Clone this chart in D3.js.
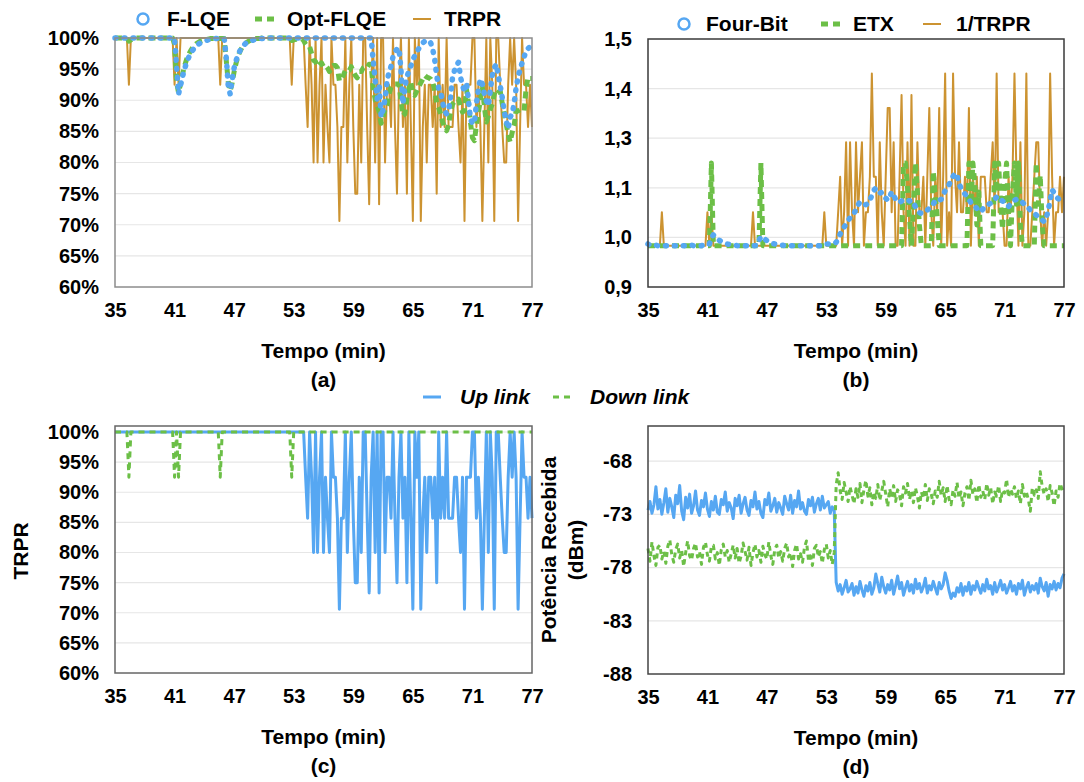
<!DOCTYPE html>
<html>
<head>
<meta charset="utf-8">
<script src="https://cdn.jsdelivr.net/npm/d3@7"></script>
<style>
  html, body { margin: 0; padding: 0; background: #fff; }
  svg text { font-family: "Liberation Sans", Arial, Helvetica, sans-serif; font-weight: bold; fill: #000; }
</style>
</head>
<body>
<div id="chart"></div>
<script>
// Sampling instants: one sample every 0.2 min from 35 to 77 min (211 samples)
const minutes = d3.range(211).map(i => 35 + i * 0.2);

const xTickValues = [35, 41, 47, 53, 59, 65, 71, 77];
const pctTicks = [60, 65, 70, 75, 80, 85, 90, 95, 100];
const etxTickValues = [0.9, 1.02, 1.14, 1.26, 1.38, 1.5];
const etxTickLabels = ["0,9", "1,0", "1,1", "1,3", "1,4", "1,5"];
const dbmTicks = [-88, -83, -78, -73, -68];

// Up-link packet reception ratio (%)
const trprUp = [
  100,100,100,100,100,100,100,100,100,100,
  100,100,100,100,100,100,100,100,100,100,
  100,100,100,100,100,100,100,100,100,100,
  100,100,100,100,100,100,100,100,100,100,
  100,100,100,100,100,100,100,100,100,100,
  100,100,100,100,100,100,100,100,100,100,
  100,100,100,100,100,100,100,100,100,100,
  100,100,100,100,100,100,100,100,100,100,
  100,100,100,100,100,100,100,100,100,100,
  100,100,100,100,100,100,92.5,85.7,100,92.5,
  80,100,80,92.5,100,80,92.5,85.7,80,100,
  92.5,92.5,85.7,70.6,85.7,85.7,100,80,92.5,100,
  85.7,75,75,92.5,80,100,100,85.7,73.3,92.5,
  100,80,100,73.3,100,100,80,92.5,92.5,85.7,
  100,85.7,75,92.5,100,85.7,92.5,75,100,85.7,
  70.6,100,92.5,100,70.6,85.7,92.5,80,92.5,92.5,
  85.7,92.5,75,100,85.7,92.5,85.7,100,85.7,85.7,
  85.7,92.5,92.5,85.7,80,92.5,70.6,92.5,92.5,92.5,
  100,100,85.7,92.5,85.7,70.6,85.7,100,80,100,
  92.5,70.6,100,100,92.5,85.7,80,80,92.5,100,
  92.5,100,92.5,70.6,85.7,100,92.5,92.5,85.7,92.5,
  85.7
];

// Down-link packet reception ratio (%)
const trprDown = [
  100,100,100,100,100,100,100,92.5,100,100,
  100,100,100,100,100,100,100,100,100,100,
  100,100,100,100,100,100,100,100,100,100,
  92.5,100,92.5,100,100,100,100,100,100,100,
  100,100,100,100,100,100,100,100,100,100,
  100,100,100,92.5,100,100,100,100,100,100,
  100,100,100,100,100,100,100,100,100,100,
  100,100,100,100,100,100,100,100,100,100,
  100,100,100,100,100,100,100,100,100,92.5,
  100,100,100,100,100,100,100,100,100,100,
  100,100,100,100,100,100,100,100,100,100,
  100,100,100,100,100,100,100,100,100,100,
  100,100,100,100,100,100,100,100,100,100,
  100,100,100,100,100,100,100,100,100,100,
  100,100,100,100,100,100,100,100,100,100,
  100,100,100,100,100,100,100,100,100,100,
  100,100,100,100,100,100,100,100,100,100,
  100,100,100,100,100,100,100,100,100,100,
  100,100,100,100,100,100,100,100,100,100,
  100,100,100,100,100,100,100,100,100,100,
  100,100,100,100,100,100,100,100,100,100,
  100
];

// F-LQE estimate (%)
const fLqe = [
  100,100,100,100,100,100,100,100,100,100,
  100,100,100,100,100,100,100,100,100,100,
  100,100,100,100,100,100,100,100,100,100,
  100,95.5,91.0,92.4,93.8,95.0,96.0,96.8,97.5,98.0,
  98.4,98.8,99.0,99.2,99.4,99.5,99.6,99.7,99.8,99.8,
  99.9,99.9,99.9,99.9,99.9,99.9,97.0,92.4,91.0,93.3,
  95.2,96.4,97.3,98.0,98.5,98.9,99.2,99.4,99.5,99.6,
  99.7,99.8,99.8,99.9,99.9,99.9,100,100,100,100,
  100,100,100,100,100,100,100,100,100,100,
  100,100,100,100,100,100,100,100,100,100,
  100,100,100,100,100,100,100,100,100,100,
  100,100,100,100,100,100,100,100,100,100,
  100,100,100,100,100,100,100,100,100,100,
  96.4,93.4,90.2,92.6,87.3,88.5,90.2,93.0,94.6,95.4,
  97.0,97.8,98.2,98.4,95.0,89.4,92.2,93.7,94.8,95.5,
  96.5,97.2,97.8,98.3,98.8,99.2,99.5,99.6,99.6,99.2,
  98.2,96.5,94.0,91.9,91.3,89.6,88.3,87.8,88.4,90.5,
  93.7,94.8,95.6,96.1,93.7,92.4,91.3,92.9,90.0,87.0,
  86.2,86.4,89.4,91.8,93.4,92.6,91.0,89.9,89.1,91.6,
  94.0,95.2,95.8,94.0,92.3,90.5,88.2,86.7,85.4,87.3,
  87.8,89.5,92.0,93.7,95.0,96.0,96.9,98.0,98.3,98.6,
  98.8
];

// Opt-FLQE estimate (%)
const optFlqe = [
  100,100,100,100,100,100,100,99.5,99.7,99.9,
  100,100,100,100,100,100,100,100,100,100,
  100,100,100,100,100,100,100,100,100,100,
  99.0,93.0,91.2,92.6,94.2,95.5,96.5,97.3,97.9,98.4,
  98.8,99.1,99.3,99.5,99.6,99.7,99.8,99.8,99.9,99.9,
  99.9,99.9,99.9,99.9,99.9,99.9,96.5,93.0,91.5,92.8,
  94.6,96.0,97.1,97.9,98.5,98.9,99.2,99.4,99.6,99.7,
  99.8,99.9,99.9,99.9,100,100,100,100,100,100,
  100,100,100,100,100,100,100,100,100,99.6,
  99.7,99.8,99.8,99.9,99.9,99.6,99.0,98.6,98.6,97.5,
  96.4,96.2,95.4,95.6,96.0,95.4,95.6,95.2,94.6,95.4,
  95.6,95.6,95.2,93.1,93.4,94.0,94.8,94.6,94.8,95.4,
  94.6,94.0,93.6,94.6,94.6,95.2,95.4,95.2,95.8,95.8,
  92.0,90.2,89.1,88.2,86.3,87.4,88.5,89.2,91.0,92.1,
  92.4,92.6,92.6,92.6,90.0,87.5,87.8,90.3,92.0,92.9,
  91.0,90.8,91.5,92.2,92.8,93.4,94.0,93.7,93.6,93.4,
  92.9,91.6,89.5,88.8,87.8,86.5,85.6,85.1,86.0,88.2,
  89.4,89.8,90.0,90.2,89.0,88.1,88.4,91.8,89.5,86.5,
  84.0,83.5,86.0,88.0,90.0,92.1,89.0,86.5,87.4,88.6,
  89.4,91.0,91.8,91.5,91.5,89.5,88.0,86.2,84.5,83.3,
  84.8,86.0,88.3,88.3,88.5,88.4,88.3,91.8,93.7,93.5,
  93.5
];

// Four-Bit estimate
const fourBit = [
  1.004,1.001,1.0,1.0,1.001,1.0,1.0,1.001,1.0,1.0,
  1.0,1.001,1.0,1.0,1.0,1.001,1.0,1.0,1.0,1.0,
  1.0,1.0,1.001,1.0,1.0,1.0,1.0,1.0,1.001,1.0,
  1.0,1.004,1.018,1.026,1.022,1.017,1.013,1.010,1.008,1.006,
  1.004,1.003,1.002,1.001,1.001,1.0,1.0,1.0,1.0,1.0,
  1.0,1.0,1.0,1.0,1.0,1.001,1.012,1.022,1.020,1.016,
  1.012,1.009,1.007,1.005,1.004,1.003,1.002,1.001,1.001,1.0,
  1.0,1.0,1.0,1.0,1.0,1.0,1.0,1.0,1.0,1.0,
  1.0,1.0,1.0,1.0,1.0,1.0,1.0,1.0,1.001,1.003,
  1.004,1.004,1.006,1.007,1.006,1.008,1.018,1.028,1.038,1.045,
  1.052,1.060,1.068,1.072,1.078,1.088,1.098,1.106,1.104,1.100,
  1.099,1.102,1.110,1.122,1.134,1.139,1.133,1.127,1.129,1.122,
  1.115,1.110,1.118,1.130,1.122,1.112,1.106,1.104,1.108,1.110,
  1.112,1.110,1.108,1.110,1.104,1.094,1.085,1.080,1.078,1.080,
  1.082,1.086,1.090,1.094,1.100,1.110,1.112,1.110,1.112,1.122,
  1.133,1.143,1.148,1.158,1.168,1.175,1.172,1.150,1.139,1.132,
  1.125,1.119,1.112,1.104,1.098,1.095,1.090,1.084,1.082,1.088,
  1.094,1.097,1.100,1.103,1.106,1.112,1.118,1.119,1.112,1.108,
  1.106,1.100,1.095,1.100,1.106,1.110,1.112,1.110,1.110,1.105,
  1.100,1.097,1.092,1.086,1.082,1.078,1.074,1.070,1.066,1.062,
  1.058,1.066,1.085,1.110,1.135,1.128,1.119,1.114,1.110,1.108,
  1.106
];

// ETX estimate
const etx = [
  1.0,1.0,1.0,1.0,1.0,1.0,1.0,1.0,1.0,1.0,
  1.0,1.0,1.0,1.0,1.0,1.0,1.0,1.0,1.0,1.0,
  1.0,1.0,1.0,1.0,1.0,1.0,1.0,1.0,1.0,1.0,
  1.0,1.0,1.2,1.0,1.0,1.0,1.0,1.0,1.0,1.0,
  1.0,1.0,1.0,1.0,1.0,1.0,1.0,1.0,1.0,1.0,
  1.0,1.0,1.0,1.0,1.0,1.0,1.0,1.2,1.0,1.0,
  1.0,1.0,1.0,1.0,1.0,1.0,1.0,1.0,1.0,1.0,
  1.0,1.0,1.0,1.0,1.0,1.0,1.0,1.0,1.0,1.0,
  1.0,1.0,1.0,1.0,1.0,1.0,1.0,1.0,1.0,1.0,
  1.0,1.0,1.0,1.0,1.0,1.0,1.0,1.0,1.0,1.0,
  1.0,1.0,1.0,1.0,1.0,1.0,1.0,1.0,1.0,1.0,
  1.0,1.0,1.0,1.0,1.0,1.0,1.0,1.0,1.0,1.0,
  1.0,1.0,1.0,1.0,1.0,1.0,1.0,1.0,1.0,1.2,
  1.2,1.14,1.07,1.0,1.1,1.2,1.13,1.05,1.0,1.0,
  1.0,1.0,1.0,1.0,1.18,1.12,1.07,1.0,1.0,1.0,
  1.0,1.0,1.0,1.0,1.0,1.0,1.0,1.0,1.0,1.0,
  1.0,1.0,1.2,1.1,1.2,1.15,1.05,1.13,1.0,1.0,
  1.0,1.0,1.0,1.0,1.0,1.2,1.13,1.2,1.1,1.04,
  1.15,1.2,1.07,1.0,1.13,1.2,1.1,1.2,1.05,1.0,
  1.0,1.0,1.0,1.0,1.0,1.0,1.2,1.1,1.17,1.05,
  1.0,1.0,1.0,1.0,1.0,1.0,1.0,1.0,1.0,1.0,
  1.0
];

// Received power, up link (dBm)
const rssiUp = [
  -72.6,-71.8,-72.9,-72.1,-70.4,-72.5,-71.6,-73.0,-71.9,-70.6,
  -72.8,-71.5,-72.3,-73.3,-71.2,-72.0,-70.3,-72.7,-73.5,-71.4,
  -72.4,-71.1,-72.9,-72.2,-70.8,-72.6,-73.1,-71.7,-72.3,-71.0,
  -72.5,-73.2,-71.8,-72.6,-71.3,-72.8,-73.0,-71.6,-72.1,-70.9,
  -72.7,-71.9,-72.4,-73.4,-71.5,-72.2,-71.2,-72.9,-72.0,-71.4,
  -72.6,-73.1,-71.7,-72.3,-70.9,-72.5,-71.8,-72.9,-73.3,-71.6,
  -72.1,-71.0,-72.7,-72.2,-71.5,-72.8,-71.9,-72.4,-73.0,-71.3,
  -72.0,-72.6,-71.2,-72.9,-71.7,-72.3,-70.8,-72.5,-71.9,-72.7,
  -73.0,-71.6,-72.2,-71.4,-72.8,-72.0,-71.5,-72.6,-71.3,-72.4,
  -72.1,-71.8,-72.9,-72.3,-72.6,
  -79.4,-80.2,-79.6,-80.5,-79.9,-79.2,-80.3,-80.0,-79.5,-80.6,
  -79.8,-80.4,-79.3,-80.1,-80.7,-79.7,-80.2,-79.4,-80.5,-79.9,
  -78.6,-79.5,-80.3,-78.9,-79.8,-80.4,-79.6,-80.1,-79.2,-80.5,
  -79.7,-78.8,-80.0,-79.4,-80.6,-79.9,-79.3,-80.2,-79.6,-80.4,
  -79.1,-80.0,-79.5,-80.3,-79.8,-79.0,-80.4,-79.7,-80.1,-79.3,
  -79.9,-80.5,-79.4,-80.0,-79.6,-78.5,-79.2,-80.2,-80.9,-80.4,
  -80.7,-79.9,-80.3,-79.5,-80.6,-79.8,-80.2,-79.4,-80.5,-79.7,
  -80.1,-79.3,-79.9,-80.4,-79.6,-80.2,-79.1,-80.0,-79.7,-80.5,
  -79.4,-80.3,-79.8,-79.2,-80.1,-79.6,-80.4,-79.9,-79.3,-80.2,
  -79.7,-80.5,-79.5,-80.0,-79.2,-80.6,-79.9,-79.4,-80.3,-79.7,
  -80.1,-79.5,-80.4,-79.0,-79.8,-80.2,-79.4,-80.7,-79.6,-80.0,
  -79.3,-80.1,-79.5,-79.9,-79.0,-78.6
];

// Received power, down link (dBm)
const rssiDown = [
  -76.2,-77.4,-75.6,-76.9,-77.8,-76.1,-75.9,-77.2,-76.5,-77.6,
  -76.0,-75.4,-76.8,-77.5,-76.3,-75.8,-77.1,-76.4,-77.9,-76.6,
  -75.5,-76.9,-77.3,-76.2,-75.7,-77.0,-76.5,-77.7,-76.1,-75.6,
  -76.8,-77.4,-76.0,-75.9,-77.2,-76.6,-77.8,-76.3,-75.8,-77.0,
  -76.4,-77.5,-76.7,-75.9,-77.1,-76.2,-77.6,-76.9,-75.7,-76.5,
  -77.3,-76.1,-77.8,-76.6,-75.8,-77.0,-76.4,-77.5,-76.0,-76.8,
  -77.2,-75.6,-76.9,-77.7,-76.3,-75.9,-77.1,-76.5,-77.4,-76.2,
  -75.7,-77.0,-76.6,-77.9,-76.4,-75.8,-77.2,-76.7,-77.5,-76.1,
  -75.5,-77.3,-76.9,-77.8,-76.2,-75.9,-77.0,-76.5,-77.6,-76.3,
  -75.8,-77.1,-76.4,-77.7,-76.6,
  -70.2,-69.1,-70.8,-71.6,-70.0,-70.9,-71.8,-70.4,-71.2,-72.0,
  -70.6,-71.4,-70.1,-71.9,-70.7,-69.8,-71.3,-70.5,-72.1,-70.9,
  -71.5,-70.2,-71.7,-70.8,-69.9,-71.1,-72.3,-70.6,-71.4,-70.3,
  -71.8,-70.7,-71.2,-72.2,-70.4,-71.0,-70.1,-71.6,-70.8,-71.9,
  -70.5,-71.3,-72.4,-70.9,-71.5,-70.2,-71.7,-70.6,-71.1,-72.0,
  -70.8,-71.4,-69.9,-71.2,-70.5,-71.8,-70.3,-71.6,-72.1,-70.7,
  -71.3,-70.0,-71.5,-70.9,-72.2,-71.0,-70.4,-71.7,-69.8,-71.1,
  -70.6,-71.9,-70.2,-71.4,-70.8,-71.6,-70.1,-71.2,-70.5,-72.0,
  -70.9,-71.3,-70.3,-71.8,-70.7,-71.0,-69.7,-71.4,-70.6,-71.1,
  -70.4,-71.5,-70.8,-72.0,-70.2,-71.3,-70.9,-71.6,-72.7,-70.5,
  -71.2,-70.7,-71.5,-69.0,-70.4,-71.1,-70.6,-71.8,-70.3,-71.0,
  -72.2,-70.8,-71.4,-70.1,-70.6,-70.9
];

// Round-trip ratio: product of both directions; ETX-style view uses its inverse
const trpr = trprUp.map((u, i) => u * trprDown[i] / 100);
const invTrpr = trpr.map(v => 100 / v);

const W = 1084, H = 782;
const BLUE = "#56a7f2", GREEN = "#6cbf47", GOLD = "#cc9331";
const FONT = '"Liberation Sans", Arial, Helvetica, sans-serif';

const svg = d3.select("#chart").append("svg")
  .attr("width", W).attr("height", H)
  .attr("viewBox", `0 0 ${W} ${H}`);
svg.append("rect").attr("width", W).attr("height", H).attr("fill", "#fff");

function makePanel(cfg) {
  const x = d3.scaleLinear().domain([35, 77]).range([cfg.left, cfg.right]);
  const y = d3.scaleLinear().domain(cfg.yDomain).range([cfg.bottom, cfg.top]);
  const g = svg.append("g");

  // horizontal grid
  g.append("g").selectAll("line").data(cfg.grid).join("line")
    .attr("x1", cfg.left).attr("x2", cfg.right)
    .attr("y1", d => y(d)).attr("y2", d => y(d))
    .attr("stroke", "#e6e6e6").attr("stroke-width", 1.2);

  // y axis labels
  const yAxis = d3.axisLeft(y).tickValues(cfg.yTicks).tickSize(0).tickPadding(16)
    .tickFormat(cfg.yFormat);
  g.append("g").attr("transform", `translate(${cfg.left},0)`).call(yAxis)
    .call(a => a.select(".domain").remove())
    .selectAll("text")
    .style("font", `bold 20px ${FONT}`).attr("fill", "#000");

  // x axis labels
  const xAxis = d3.axisBottom(x).tickValues(xTickValues).tickSize(0).tickPadding(16)
    .tickFormat(d => String(d));
  g.append("g").attr("transform", `translate(0,${cfg.bottom})`).call(xAxis)
    .call(a => a.select(".domain").remove())
    .selectAll("text")
    .style("font", `bold 20px ${FONT}`).attr("fill", "#000");

  const cx = (cfg.left + cfg.right) / 2;
  g.append("text").attr("x", cx).attr("y", cfg.bottom + 64).attr("dy", "0.35em")
    .attr("text-anchor", "middle").style("font-size", "21px").text("Tempo (min)");
  g.append("text").attr("x", cx).attr("y", cfg.bottom + 93).attr("dy", "0.35em")
    .attr("text-anchor", "middle").style("font-size", "21px").text(cfg.label);

  const series = g.append("g");
  cfg.series.forEach(s => {
    const line = d3.line().x((d, i) => x(minutes[i])).y(d => y(d));
    series.append("path").datum(s.values)
      .attr("d", line)
      .attr("fill", "none")
      .attr("stroke", s.color)
      .attr("stroke-width", s.width)
      .attr("stroke-linejoin", "round")
      .attr("stroke-linecap", s.cap || "butt")
      .attr("stroke-dasharray", s.dash || null);
  });

  // plot frame
  g.append("rect").attr("x", cfg.left).attr("y", cfg.top)
    .attr("width", cfg.right - cfg.left).attr("height", cfg.bottom - cfg.top)
    .attr("fill", "none").attr("stroke", cfg.frame).attr("stroke-width", 1.5);

  return { x, y, g };
}

const pctFormat = d => d + "%";
const dotted = { width: 5.5, cap: "round", dash: "1 8" };

// (a) link quality estimators vs. TRPR
makePanel({
  left: 115, right: 532, top: 38, bottom: 287,
  yDomain: [60, 100], yTicks: pctTicks, yFormat: pctFormat,
  grid: [65, 70, 75, 80, 85, 90, 95], frame: "#8c8c8c", label: "(a)",
  series: [
    { values: trpr, color: GOLD, width: 2 },
    { values: optFlqe, color: GREEN, width: 5, dash: "7 5" },
    { values: fLqe, color: BLUE, ...dotted }
  ]
});

// (b) Four-Bit and ETX vs. 1/TRPR
makePanel({
  left: 648, right: 1064, top: 39, bottom: 287,
  yDomain: [0.9, 1.5], yTicks: etxTickValues,
  yFormat: (d, i) => etxTickLabels[i],
  grid: [1.02, 1.14, 1.26, 1.38], frame: "#3a3a3a", label: "(b)",
  series: [
    { values: invTrpr, color: GOLD, width: 2 },
    { values: etx, color: GREEN, width: 5, dash: "7 5" },
    { values: fourBit, color: BLUE, ...dotted }
  ]
});

// (c) TRPR per direction
makePanel({
  left: 115, right: 532, top: 426, bottom: 673,
  yDomain: [60, 101], yTicks: pctTicks, yFormat: pctFormat,
  grid: [65, 70, 75, 80, 85, 90, 95, 100], frame: "#666", label: "(c)",
  series: [
    { values: trprUp, color: BLUE, width: 3 },
    { values: trprDown, color: GREEN, width: 3, dash: "6 5" }
  ]
});

// (d) received power per direction
makePanel({
  left: 648, right: 1064, top: 426, bottom: 674,
  yDomain: [-88, -64.7], yTicks: dbmTicks, yFormat: d => String(d),
  grid: [-83, -78, -73, -68], frame: "#444", label: "(d)",
  series: [
    { values: rssiUp, color: BLUE, width: 3 },
    { values: rssiDown, color: GREEN, width: 3, dash: "5 4" }
  ]
});

// y axis titles
svg.append("text").attr("transform", "translate(21,551) rotate(-90)")
  .attr("text-anchor", "middle").attr("dy", "0.35em").style("font-size", "21px").text("TRPR");
svg.append("text").attr("transform", "translate(549,550) rotate(-90)")
  .attr("text-anchor", "middle").attr("dy", "0.35em").style("font-size", "21px").text("Potência Recebida");
svg.append("text").attr("transform", "translate(576,550) rotate(-90)")
  .attr("text-anchor", "middle").attr("dy", "0.35em").style("font-size", "21px").text("(dBm)");

// legends
function legend(items, cy, italic) {
  const lg = svg.append("g");
  items.forEach(it => {
    if (it.kind === "circle") {
      lg.append("circle").attr("cx", it.x0).attr("cy", cy).attr("r", 5.5)
        .attr("fill", "#fff").attr("stroke", it.color).attr("stroke-width", 2.5);
    } else {
      lg.append("line").attr("x1", it.x0).attr("x2", it.x1).attr("y1", cy).attr("y2", cy)
        .attr("stroke", it.color).attr("stroke-width", it.width)
        .attr("stroke-dasharray", it.dash || null);
    }
    lg.append("text").attr("x", it.tx).attr("y", cy).attr("dy", "0.35em")
      .style("font-size", "21px").style("font-style", italic ? "italic" : "normal")
      .text(it.name);
  });
}

legend([
  { kind: "circle", x0: 143, color: BLUE, tx: 167, name: "F-LQE" },
  { kind: "line", x0: 255, x1: 274, color: GREEN, width: 5, dash: "7 5", tx: 287, name: "Opt-FLQE" },
  { kind: "line", x0: 413, x1: 431, color: GOLD, width: 2, tx: 444, name: "TRPR" }
], 19, false);

legend([
  { kind: "circle", x0: 684, color: BLUE, tx: 706, name: "Four-Bit" },
  { kind: "line", x0: 821, x1: 840, color: GREEN, width: 5, dash: "7 5", tx: 853, name: "ETX" },
  { kind: "line", x0: 923, x1: 941, color: GOLD, width: 2, tx: 956, name: "1/TRPR" }
], 24, false);

legend([
  { kind: "line", x0: 423, x1: 441, color: BLUE, width: 3, tx: 460, name: "Up link" },
  { kind: "line", x0: 553, x1: 573, color: GREEN, width: 3, dash: "6 5", tx: 590, name: "Down link" }
], 397, true);
</script>
</body>
</html>
